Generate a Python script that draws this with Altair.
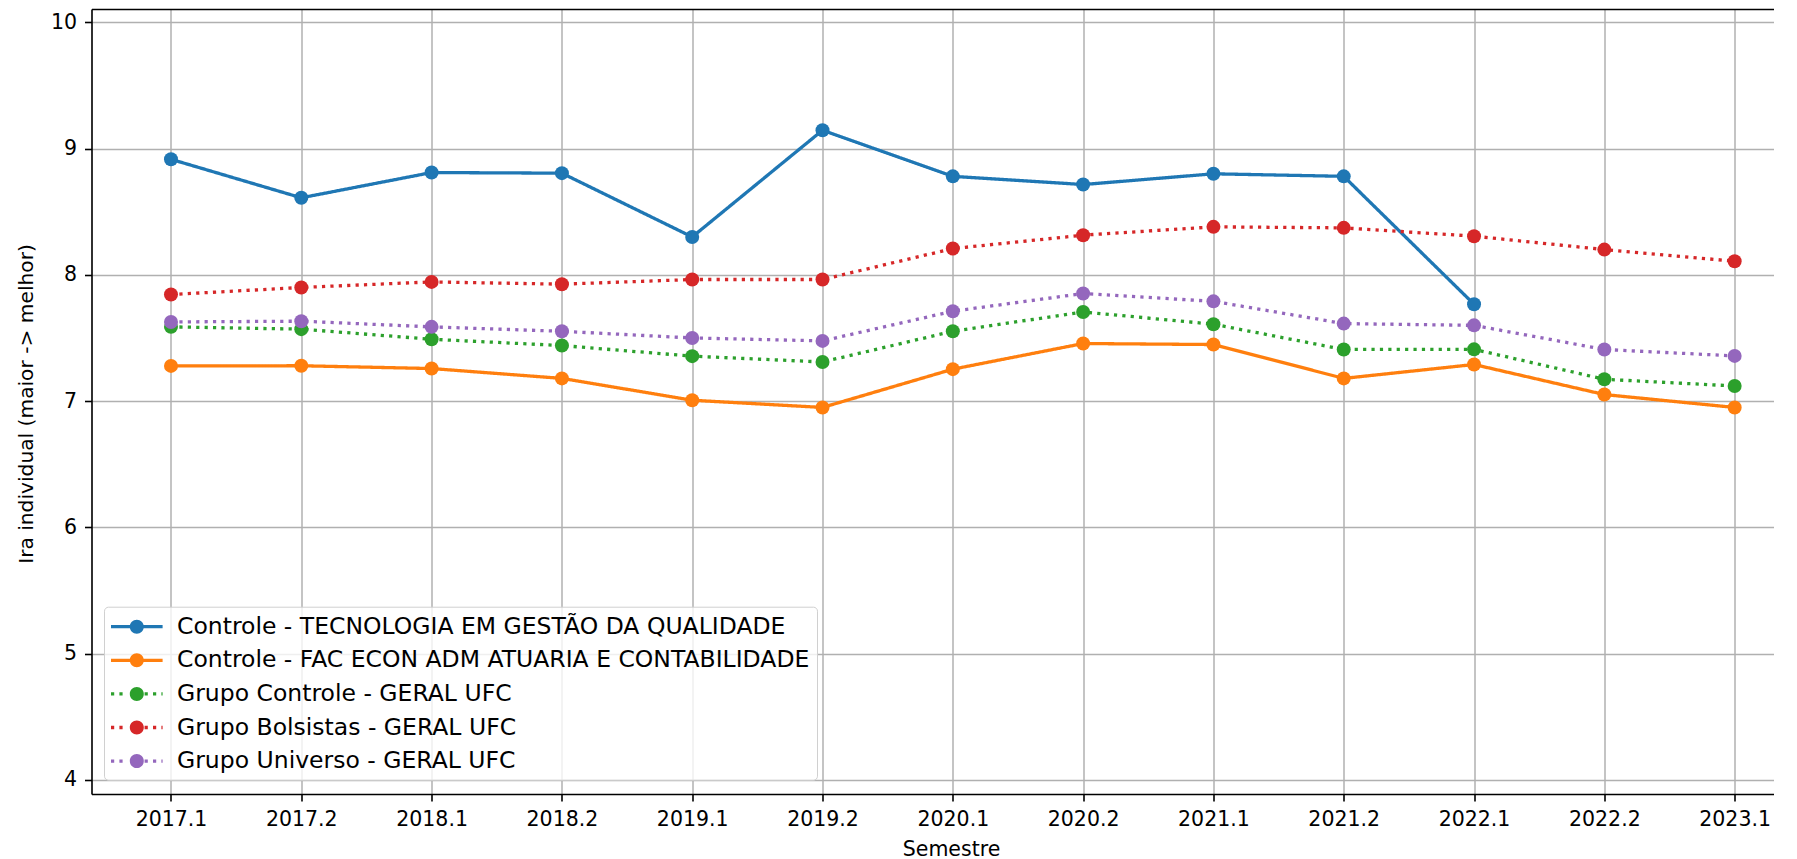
import altair as alt
import pandas as pd

semestres = ["2017.1", "2017.2", "2018.1", "2018.2", "2019.1", "2019.2", "2020.1",
             "2020.2", "2021.1", "2021.2", "2022.1", "2022.2", "2023.1"]

series_names = [
    "Controle - TECNOLOGIA EM GESTÃO DA QUALIDADE",
    "Controle - FAC ECON ADM ATUARIA E CONTABILIDADE",
    "Grupo Controle - GERAL UFC",
    "Grupo Bolsistas - GERAL UFC",
    "Grupo Universo - GERAL UFC",
]

tecnologia = [8.915, 8.61, 8.81, 8.805, 8.30, 9.145, 8.78, 8.715, 8.80, 8.78, 7.767, None, None]
fac_econ = [7.279, 7.28, 7.258, 7.18, 7.007, 6.95, 7.253, 7.456, 7.448, 7.18, 7.29, 7.052, 6.95]
grupo_controle = [7.588, 7.57, 7.49, 7.44, 7.356, 7.31, 7.553, 7.706, 7.609, 7.409, 7.41, 7.173, 7.12]
grupo_bolsistas = [7.844, 7.90, 7.944, 7.926, 7.963, 7.963, 8.208, 8.314, 8.38, 8.372, 8.306, 8.20, 8.108]
grupo_universo = [7.627, 7.633, 7.588, 7.553, 7.50, 7.477, 7.712, 7.852, 7.79, 7.614, 7.60, 7.409, 7.358]

colors = ["#1f77b4", "#ff7f0e", "#2ca02c", "#d62728", "#9467bd"]
dotted = [False, False, True, True, True]

all_values = [tecnologia, fac_econ, grupo_controle, grupo_bolsistas, grupo_universo]
rows = []
for name, vals in zip(series_names, all_values):
    for i, (sem, v) in enumerate(zip(semestres, vals)):
        if v is not None:
            rows.append({"idx": i, "semestre": sem, "serie": name, "valor": v})
df = pd.DataFrame(rows)

FONT = "DejaVu Sans"
FS = 20.5
LEG_FS = 23.5
LW = 3.3
DASH = [3.2, 5.2]

# ---- legend symbol paths (line + marker), in units of half the symbol size
SYM = 26.0
U = SYM / 2.0
HALF_LEN = 25.8
HALF_W = LW / 2.0
R = 7.0


def rect(x0, x1):
    a, b = x0 / U, x1 / U
    h = HALF_W / U
    return "M%.4f,%.4fL%.4f,%.4fL%.4f,%.4fL%.4f,%.4fZ" % (a, -h, b, -h, b, h, a, h)


def circle():
    r = R / U
    return "M%.4f,0A%.4f,%.4f,0,1,1,%.4f,0A%.4f,%.4f,0,1,1,%.4f,0Z" % (r, r, r, -r, r, r, r)


def symbol_path(is_dotted):
    parts = []
    if is_dotted:
        x = -HALF_LEN
        while x < HALF_LEN:
            x1 = min(x + DASH[0], HALF_LEN)
            if x1 < -R or x > R:
                parts.append(rect(x, x1))
            x += DASH[0] + DASH[1]
    else:
        parts.append(rect(-HALF_LEN, -R + 0.5))
        parts.append(rect(R - 0.5, HALF_LEN))
    parts.append(circle())
    return "".join(parts)


shapes = [symbol_path(d) for d in dotted]
dashes = [DASH if d else [1, 0] for d in dotted]

xscale = alt.Scale(domain=[-0.61, 12.302], nice=False, zero=False)
yscale = alt.Scale(domain=[3.889, 10.105], nice=False, zero=False)
cscale = alt.Scale(domain=series_names, range=colors)
dscale = alt.Scale(domain=series_names, range=dashes)
sscale = alt.Scale(domain=series_names, range=shapes)

label_expr = "[" + ",".join("'%s'" % s for s in semestres) + "][datum.value]"

x_bottom = alt.Axis(
    values=list(range(len(semestres))), labelExpr=label_expr,
    grid=True, gridColor="#b0b0b0", gridWidth=1.5,
    tickColor="black", tickWidth=1.6, tickSize=7,
    domainColor="black", domainWidth=1.6,
    labelFont=FONT, labelFontSize=FS, labelColor="black", labelPadding=8,
    labelBaseline="top", labelFlush=False, labelOverlap=False,
    title="Semestre", titleFont=FONT, titleFontSize=FS, titleFontWeight="normal",
    titleColor="black", titleX=859.5, titleY=61, titleAlign="center",
    titleBaseline="alphabetic",
)
x_top = alt.Axis(
    orient="top", labels=False, ticks=False, grid=False, domain=True,
    domainColor="black", domainWidth=1.6, title=None,
)
y_axis = alt.Axis(
    values=[4, 5, 6, 7, 8, 9, 10], format="d",
    grid=True, gridColor="#b0b0b0", gridWidth=1.5,
    tickColor="black", tickWidth=1.6, tickSize=7,
    domainColor="black", domainWidth=1.6,
    labelFont=FONT, labelFontSize=FS, labelColor="black", labelPadding=8,
    labelFlush=False,
    title="Ira individual (maior -> melhor)", titleFont=FONT, titleFontSize=20.2,
    titleFontWeight="normal", titleColor="black", titleAngle=270,
    titleX=-64.8, titleY=394.5, titleAlign="center", titleBaseline="middle",
)

legend = alt.Legend(
    title=None, orient="none", legendX=12.5, legendY=597.7,
    symbolSize=SYM * SYM, symbolStrokeWidth=0, symbolOpacity=1,
    padding=7, rowPadding=8.6, symbolOffset=12.8, labelOffset=27.2,
    labelFont=FONT, labelFontSize=LEG_FS, labelColor="black", labelLimit=1000,
    fillColor="rgba(255,255,255,0.8)", strokeColor="#d0d0d0", cornerRadius=4,
)

line = alt.Chart(df).mark_line(strokeWidth=LW, clip=True).encode(
    x=alt.X("idx:Q", scale=xscale, axis=x_bottom),
    y=alt.Y("valor:Q", scale=yscale, axis=y_axis),
    color=alt.Color("serie:N", scale=cscale, legend=None),
    strokeDash=alt.StrokeDash("serie:N", scale=dscale, legend=None),
)

pts = alt.Chart(df).mark_circle(size=196, opacity=1, clip=True).encode(
    x=alt.X("idx:Q", scale=xscale, axis=x_top),
    y=alt.Y("valor:Q", scale=yscale, axis=y_axis),
    color=alt.Color("serie:N", scale=cscale, legend=None),
)

leg_layer = alt.Chart(df).mark_point(filled=True, opacity=0, size=10).encode(
    x=alt.X("idx:Q", scale=xscale, axis=None),
    y=alt.Y("valor:Q", scale=yscale, axis=y_axis),
    color=alt.Color("serie:N", scale=cscale, legend=legend),
    shape=alt.Shape("serie:N", scale=sscale, legend=legend),
)

chart = (
    alt.layer(line, pts, leg_layer)
    .resolve_axis(x="independent")
    .resolve_legend(color="independent", shape="independent", strokeDash="independent")
    .properties(
        width=1682.5, height=785,
        autosize=alt.AutoSizeParams(type="none"),
        padding={"left": 83.5, "top": 1, "right": 0, "bottom": 66},
    )
    .configure_view(stroke=None)
    .configure(background="white")
)

chart.save("out.html", embed_options={"renderer": "svg", "actions": False})
